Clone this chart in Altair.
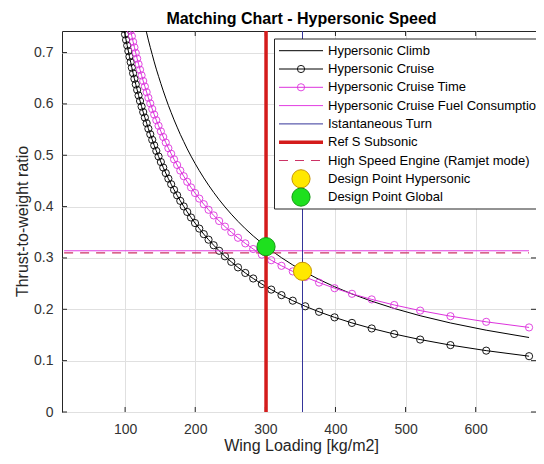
import altair as alt
import pandas as pd

# ---------------- data ----------------
wing_loading = [676.1, 615.0, 564.0, 520.8, 483.8, 451.7, 423.5, 398.7, 376.6, 356.9,
                339.1, 323.0, 308.4, 295.0, 282.7, 271.4, 261.0, 251.4, 242.4, 234.1,
                226.3, 219.0, 212.2, 205.8, 199.7, 194.0, 188.6, 183.6, 178.7, 174.2,
                169.8, 165.7, 161.7, 158.0, 154.4, 151.0, 147.7, 144.5, 141.5, 138.7,
                135.9, 133.2, 130.7, 128.2, 125.8, 123.5, 121.3, 119.2, 117.2, 115.2,
                113.3, 111.4, 109.6, 107.9, 106.2, 104.6, 103.0, 101.4, 99.9, 98.5, 97.1]

hyper_cruise = [0.1087, 0.1195, 0.1303, 0.1411, 0.1519, 0.1627, 0.1735, 0.1843, 0.1951, 0.2059,
                0.2168, 0.2276, 0.2384, 0.2492, 0.2600, 0.2708, 0.2816, 0.2924, 0.3032, 0.3140,
                0.3248, 0.3356, 0.3464, 0.3572, 0.3680, 0.3788, 0.3896, 0.4004, 0.4112, 0.4220,
                0.4328, 0.4436, 0.4545, 0.4653, 0.4761, 0.4869, 0.4977, 0.5085, 0.5193, 0.5301,
                0.5409, 0.5517, 0.5625, 0.5733, 0.5841, 0.5949, 0.6057, 0.6165, 0.6273, 0.6381,
                0.6489, 0.6597, 0.6705, 0.6813, 0.6922, 0.7030, 0.7138, 0.7246, 0.7354, 0.7462]

cruise_time = [0.1647, 0.1756, 0.1866, 0.1975, 0.2084, 0.2193, 0.2302, 0.2411, 0.2520, 0.2629,
               0.2738, 0.2847, 0.2956, 0.3065, 0.3174, 0.3284, 0.3393, 0.3502, 0.3611, 0.3720,
               0.3829, 0.3938, 0.4047, 0.4156, 0.4265, 0.4374, 0.4483, 0.4592, 0.4702, 0.4811,
               0.4920, 0.5029, 0.5138, 0.5247, 0.5356, 0.5465, 0.5574, 0.5683, 0.5792, 0.5901,
               0.6010, 0.6119, 0.6229, 0.6338, 0.6447, 0.6556, 0.6665, 0.6774, 0.6883, 0.6992,
               0.7101, 0.7210, 0.7319, 0.7428, 0.7537]

hyper_climb = [0.1451, 0.1593, 0.1734, 0.1875, 0.2016, 0.2158, 0.2299, 0.2440, 0.2581, 0.2723,
               0.2864, 0.3005, 0.3147, 0.3288, 0.3429, 0.3570, 0.3712, 0.3853, 0.3994, 0.4135,
               0.4277, 0.4418, 0.4559, 0.4700, 0.4842, 0.4983, 0.5124, 0.5266, 0.5407, 0.5548,
               0.5689, 0.5831, 0.5972, 0.6113, 0.6254, 0.6396, 0.6537, 0.6678, 0.6819, 0.6961,
               0.7102, 0.7243, 0.7384, 0.7526, 0.7667]

hline_x = [13, 676]
fuel_consumption_y = [0.314, 0.314]
ramjet_y = [0.310, 0.310]
ref_s_subsonic = [301]
instant_turn = [353]
design_hyper_x, design_hyper_y = [353], [0.274]
design_global_x, design_global_y = [301], [0.322]

x_ticks = [100, 200, 300, 400, 500, 600]
y_ticks = [0, 0.1, 0.2, 0.3, 0.4, 0.5, 0.6, 0.7]

legend_labels = ["Hypersonic Climb", "Hypersonic Cruise", "Hypersonic Cruise Time",
                 "Hypersonic Cruise Fuel Consumption", "Istantaneous Turn", "Ref S Subsonic",
                 "High Speed Engine (Ramjet mode)", "Design Point Hypersonic", "Design Point Global"]

title_text = "Matching Chart - Hypersonic Speed"
x_title = "Wing Loading [kg/m2]"
y_title = "Thrust-to-weight ratio"

# ---------------- styling ----------------
FONT = "Liberation Sans"
W, H = 474, 381
MAG = "#dd33dd"
MAG2 = "#e23ce2"
BLUE = "#35359a"
RED = "#d41c1c"
DASH = "#cc3366"
FRAME = "#262626"

xs = alt.Scale(domain=[10, 686], nice=False, zero=False)
ys = alt.Scale(domain=[0, 0.742], nice=False, zero=False)

x_axis = alt.Axis(values=x_ticks, grid=True, gridColor="#e0e0e0", tickSize=0, domain=False,
                  labelFont=FONT, labelFontSize=14, labelColor="#333333", labelPadding=10,
                  title=None)
y_axis = alt.Axis(values=y_ticks, grid=True, gridColor="#e0e0e0", tickSize=0, domain=False,
                  labelFont=FONT, labelFontSize=14, labelColor="#333333", labelPadding=9,
                  format="~g", title=None)

one = pd.DataFrame({"a": [0]})


def X(field="x"):
    return alt.X(f"{field}:Q", scale=xs, axis=x_axis)


def Y(field="y"):
    return alt.Y(f"{field}:Q", scale=ys, axis=y_axis)


base = alt.Chart(pd.DataFrame({"x": [10, 686], "y": [0, 0.742]})).mark_point(opacity=0).encode(
    x=X(), y=Y())

ytk = pd.DataFrame({"v": y_ticks})
xtk = pd.DataFrame({"v": x_ticks})
tick_layers = [
    alt.Chart(ytk).mark_rule(color=FRAME, strokeWidth=1).encode(
        y=Y("v"), x=alt.value(0), x2=alt.value(5)),
    alt.Chart(ytk).mark_rule(color=FRAME, strokeWidth=1).encode(
        y=Y("v"), x=alt.value(W - 5), x2=alt.value(W)),
    alt.Chart(xtk).mark_rule(color=FRAME, strokeWidth=1).encode(
        x=X("v"), y=alt.value(H - 5), y2=alt.value(H)),
    alt.Chart(xtk).mark_rule(color=FRAME, strokeWidth=1).encode(
        x=X("v"), y=alt.value(0), y2=alt.value(5)),
]

df_climb = pd.DataFrame({"x": wing_loading[:len(hyper_climb)], "y": hyper_climb})
df_cruise = pd.DataFrame({"x": wing_loading[:len(hyper_cruise)], "y": hyper_cruise})
df_time = pd.DataFrame({"x": wing_loading[:len(cruise_time)], "y": cruise_time})
df_fuel = pd.DataFrame({"x": hline_x, "y": fuel_consumption_y})
df_ram = pd.DataFrame({"x": hline_x, "y": ramjet_y})


def xy(df):
    return alt.Chart(df).encode(x=X(), y=Y(), order=alt.Order("x:Q"))


def xy_pt(df):
    return alt.Chart(df).encode(x=X(), y=Y())


climb_line = xy(df_climb).mark_line(color="black", strokeWidth=1, clip=True)
cruise_line = xy(df_cruise).mark_line(color="black", strokeWidth=1, clip=True)
cruise_pts = xy_pt(df_cruise).mark_point(shape="circle", filled=False, size=52, color="black",
                                         strokeWidth=0.9, opacity=1, clip=True)
time_line = xy(df_time).mark_line(color=MAG, strokeWidth=1, clip=True)
time_pts = xy_pt(df_time).mark_point(shape="circle", filled=False, size=52, color=MAG,
                                     strokeWidth=0.9, opacity=1, clip=True)
fuel_line = xy(df_fuel).mark_line(color=MAG2, strokeWidth=1, clip=True)

turn_rule = alt.Chart(pd.DataFrame({"x": instant_turn})).mark_rule(color=BLUE, strokeWidth=1).encode(
    x=X(), y=alt.value(0), y2=alt.value(H))
ref_rule = alt.Chart(pd.DataFrame({"x": ref_s_subsonic})).mark_rule(color=RED, strokeWidth=3.5).encode(
    x=X(), y=alt.value(0), y2=alt.value(H))
ram_line = xy(df_ram).mark_line(color=DASH, strokeWidth=1.2, strokeDash=[9, 7], clip=True)

pt_hyper = xy_pt(pd.DataFrame({"x": design_hyper_x, "y": design_hyper_y})).mark_point(
    shape="circle", filled=True, size=330, fill="#ffe800", stroke="#c89400", strokeWidth=1, opacity=1)
pt_global = xy_pt(pd.DataFrame({"x": design_global_x, "y": design_global_y})).mark_point(
    shape="circle", filled=True, size=330, fill="#1ee01e", stroke="#129a12", strokeWidth=1, opacity=1)

# ---------------- legend (drawn by hand) ----------------
LX0, LX1, LTX = 217, 261, 266
LY0, LDY = 19.7, 18.3
legend_layers = [
    alt.Chart(one).mark_rect(fill="white", stroke=FRAME, strokeWidth=1).encode(
        x=alt.value(212.5), x2=alt.value(540), y=alt.value(8), y2=alt.value(178))
]
line_styles = [
    dict(color="black", strokeWidth=1),
    dict(color="black", strokeWidth=1),
    dict(color=MAG, strokeWidth=1),
    dict(color=MAG2, strokeWidth=1),
    dict(color=BLUE, strokeWidth=1),
    dict(color=RED, strokeWidth=3.5),
    dict(color=DASH, strokeWidth=1.2, strokeDash=[9, 7]),
]
for i, lab in enumerate(legend_labels):
    yy = LY0 + LDY * i
    if i < len(line_styles):
        legend_layers.append(alt.Chart(one).mark_rule(**line_styles[i]).encode(
            x=alt.value(LX0), x2=alt.value(LX1), y=alt.value(yy)))
    if i in (1, 2):
        legend_layers.append(alt.Chart(one).mark_point(
            shape="circle", filled=False, size=52, strokeWidth=0.9, opacity=1,
            color="black" if i == 1 else MAG).encode(x=alt.value((LX0 + LX1) / 2), y=alt.value(yy)))
    if i == 7:
        legend_layers.append(alt.Chart(one).mark_point(
            shape="circle", filled=True, size=330, fill="#ffe800", stroke="#c89400",
            strokeWidth=1, opacity=1).encode(x=alt.value((LX0 + LX1) / 2), y=alt.value(yy)))
    if i == 8:
        legend_layers.append(alt.Chart(one).mark_point(
            shape="circle", filled=True, size=330, fill="#1ee01e", stroke="#129a12",
            strokeWidth=1, opacity=1).encode(x=alt.value((LX0 + LX1) / 2), y=alt.value(yy)))
    legend_layers.append(alt.Chart(one).mark_text(
        align="left", baseline="middle", font=FONT, fontSize=13, color="black").encode(
        x=alt.value(LTX), y=alt.value(yy), text=alt.value(lab)))

# ---------------- titles ----------------
title_mark = alt.Chart(one).mark_text(align="center", baseline="alphabetic", font=FONT,
                                      fontSize=16, fontWeight="bold", color="black").encode(
    x=alt.value(239.5), y=alt.value(-7.5), text=alt.value(title_text))
xlab = alt.Chart(one).mark_text(align="center", baseline="alphabetic", font=FONT,
                                fontSize=16, color="#262626").encode(
    x=alt.value(239.5), y=alt.value(420), text=alt.value(x_title))
ylab = alt.Chart(one).mark_text(align="center", baseline="alphabetic", font=FONT,
                                fontSize=16, color="#262626", angle=270).encode(
    x=alt.value(-34), y=alt.value(H / 2), text=alt.value(y_title))

chart = alt.layer(
    base, *tick_layers,
    climb_line, cruise_line, cruise_pts, time_line, time_pts, fuel_line,
    turn_rule, ref_rule, ram_line, pt_hyper, pt_global,
    *legend_layers, title_mark, xlab, ylab,
).properties(
    width=W, height=H,
    autosize=alt.AutoSizeParams(type="none"),
    padding={"left": 54, "top": 23, "right": 0, "bottom": 44},
    background="white",
).configure_view(stroke=FRAME, strokeWidth=1)

chart.save("out.html", embed_options={"renderer": "svg", "actions": False})
